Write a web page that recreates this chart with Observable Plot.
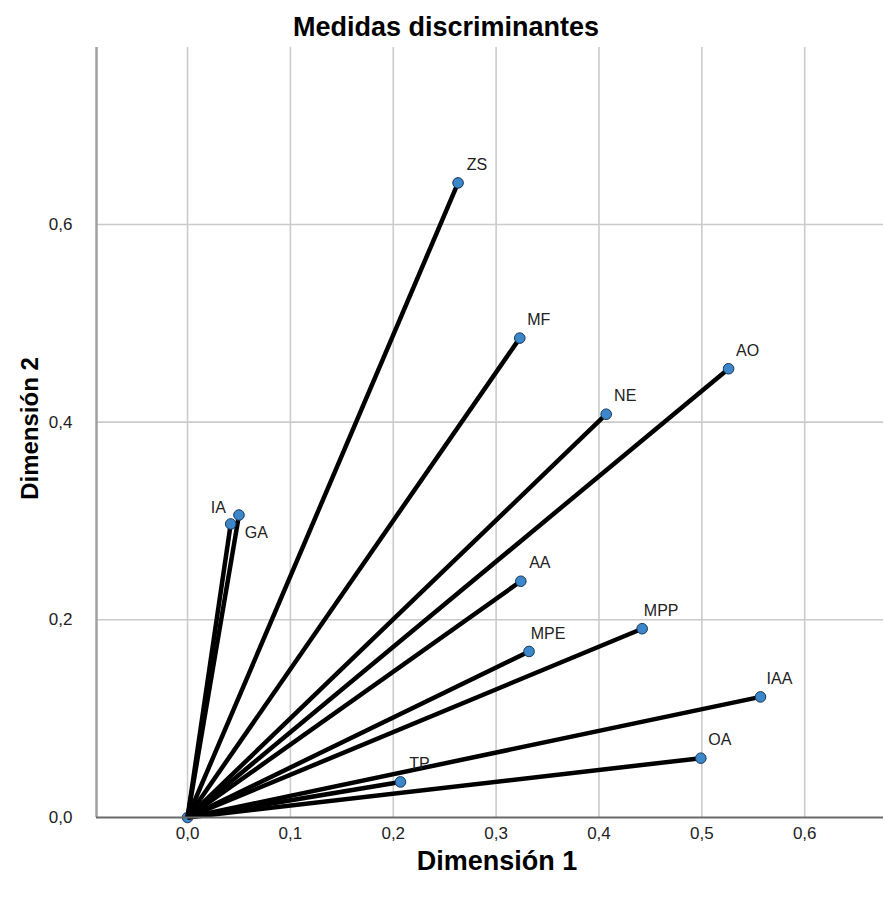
<!DOCTYPE html>
<html>
<head>
<meta charset="utf-8">
<script src="https://cdn.jsdelivr.net/npm/d3@7"></script>
<script src="https://cdn.jsdelivr.net/npm/@observablehq/plot@0.6"></script>
<style>
  body { margin: 0; background: #fff; }
  #title { width: 885px; height: 47px; box-sizing: border-box; padding-top: 13px; padding-left: 7px;
           text-align: center; font: bold 27px "Liberation Sans", Arial, sans-serif; line-height: 29px; color: #000; }
</style>
</head>
<body>
<div id="title">Medidas discriminantes</div>
<div id="chart"></div>
<script>
// Data
const labels = ["ZS", "MF", "AO", "NE", "IA", "GA", "AA", "MPP", "MPE", "IAA", "OA", "TP"];
const dim1   = [0.263, 0.323, 0.526, 0.407, 0.050, 0.042, 0.324, 0.442, 0.332, 0.557, 0.499, 0.207];
const dim2   = [0.642, 0.485, 0.454, 0.408, 0.306, 0.297, 0.239, 0.191, 0.168, 0.122, 0.060, 0.036];
const xTicks = [0, 0.1, 0.2, 0.3, 0.4, 0.5, 0.6];
const yTicks = [0, 0.2, 0.4, 0.6];
const xDomain = [-0.0885, 0.6766];
const yDomain = [0, 0.779];

const data = labels.map((label, i) => ({label, x: dim1[i], y: dim2[i]}));
const fmt = d => d.toFixed(1).replace(".", ",");
const font = '"Liberation Sans", Arial, sans-serif';

const plot = Plot.plot({
  width: 885,
  height: 850,
  marginTop: 0,
  marginBottom: 80,
  marginLeft: 96,
  marginRight: 2,
  style: {fontFamily: font, fontSize: "16px", color: "#222", background: "#fff", overflow: "visible"},
  x: {domain: xDomain},
  y: {domain: yDomain},
  marks: [
    Plot.gridX(xTicks, {stroke: "#cbcbcb", strokeOpacity: 1, strokeWidth: 1.6}),
    Plot.gridY(yTicks.filter(d => d > 0), {stroke: "#cbcbcb", strokeOpacity: 1, strokeWidth: 1.6}),
    Plot.ruleX([xDomain[0]], {stroke: "#a0a0a0", strokeWidth: 2.5}),
    Plot.axisX(xTicks, {tickSize: 0, tickPadding: 9, tickFormat: fmt, label: null, fontSize: 17, fill: "#222"}),
    Plot.axisY(yTicks, {tickSize: 0, tickPadding: 24, tickFormat: fmt, label: null, fontSize: 17, fill: "#222"}),
    Plot.dot(data.slice(0, 1), {x: () => 0, y: () => 0, r: 5.3, fill: "#3b87c9", stroke: "#16365a", strokeWidth: 1}),
    Plot.link(data, {x1: () => 0, y1: () => 0, x2: "x", y2: "y", stroke: "#000", strokeWidth: 4.5}),
    Plot.ruleY([0], {stroke: "#6a6a6a", strokeWidth: 2}),
    Plot.dot(data, {x: "x", y: "y", r: 5.3, fill: "#3b87c9", stroke: "#16365a", strokeWidth: 1}),
    Plot.text(data.filter(d => d.label !== "IA" && d.label !== "GA"),
      {x: "x", y: "y", text: "label", dx: 19, dy: -18, fontSize: 16, fill: "#222"}),
    Plot.text(data.filter(d => d.label === "IA"),
      {x: "x", y: "y", text: "label", textAnchor: "end", dx: -13, dy: -7, fontSize: 16, fill: "#222"}),
    Plot.text(data.filter(d => d.label === "GA"),
      {x: "x", y: "y", text: "label", textAnchor: "start", dx: 14, dy: 9, fontSize: 16, fill: "#222"}),
    Plot.text(["Dimensión 1"], {frameAnchor: "bottom", textAnchor: "middle", dx: 7, dy: 52, lineAnchor: "bottom",
      fontSize: 27, fontWeight: "bold", fill: "#000"}),
    Plot.text(["Dimensión 2"], {frameAnchor: "left", textAnchor: "middle", dx: -66, dy: -4, rotate: -90, lineAnchor: "middle",
      fontSize: 24, fontWeight: "bold", fill: "#000"})
  ]
});
document.getElementById("chart").appendChild(plot);
</script>
</body>
</html>
